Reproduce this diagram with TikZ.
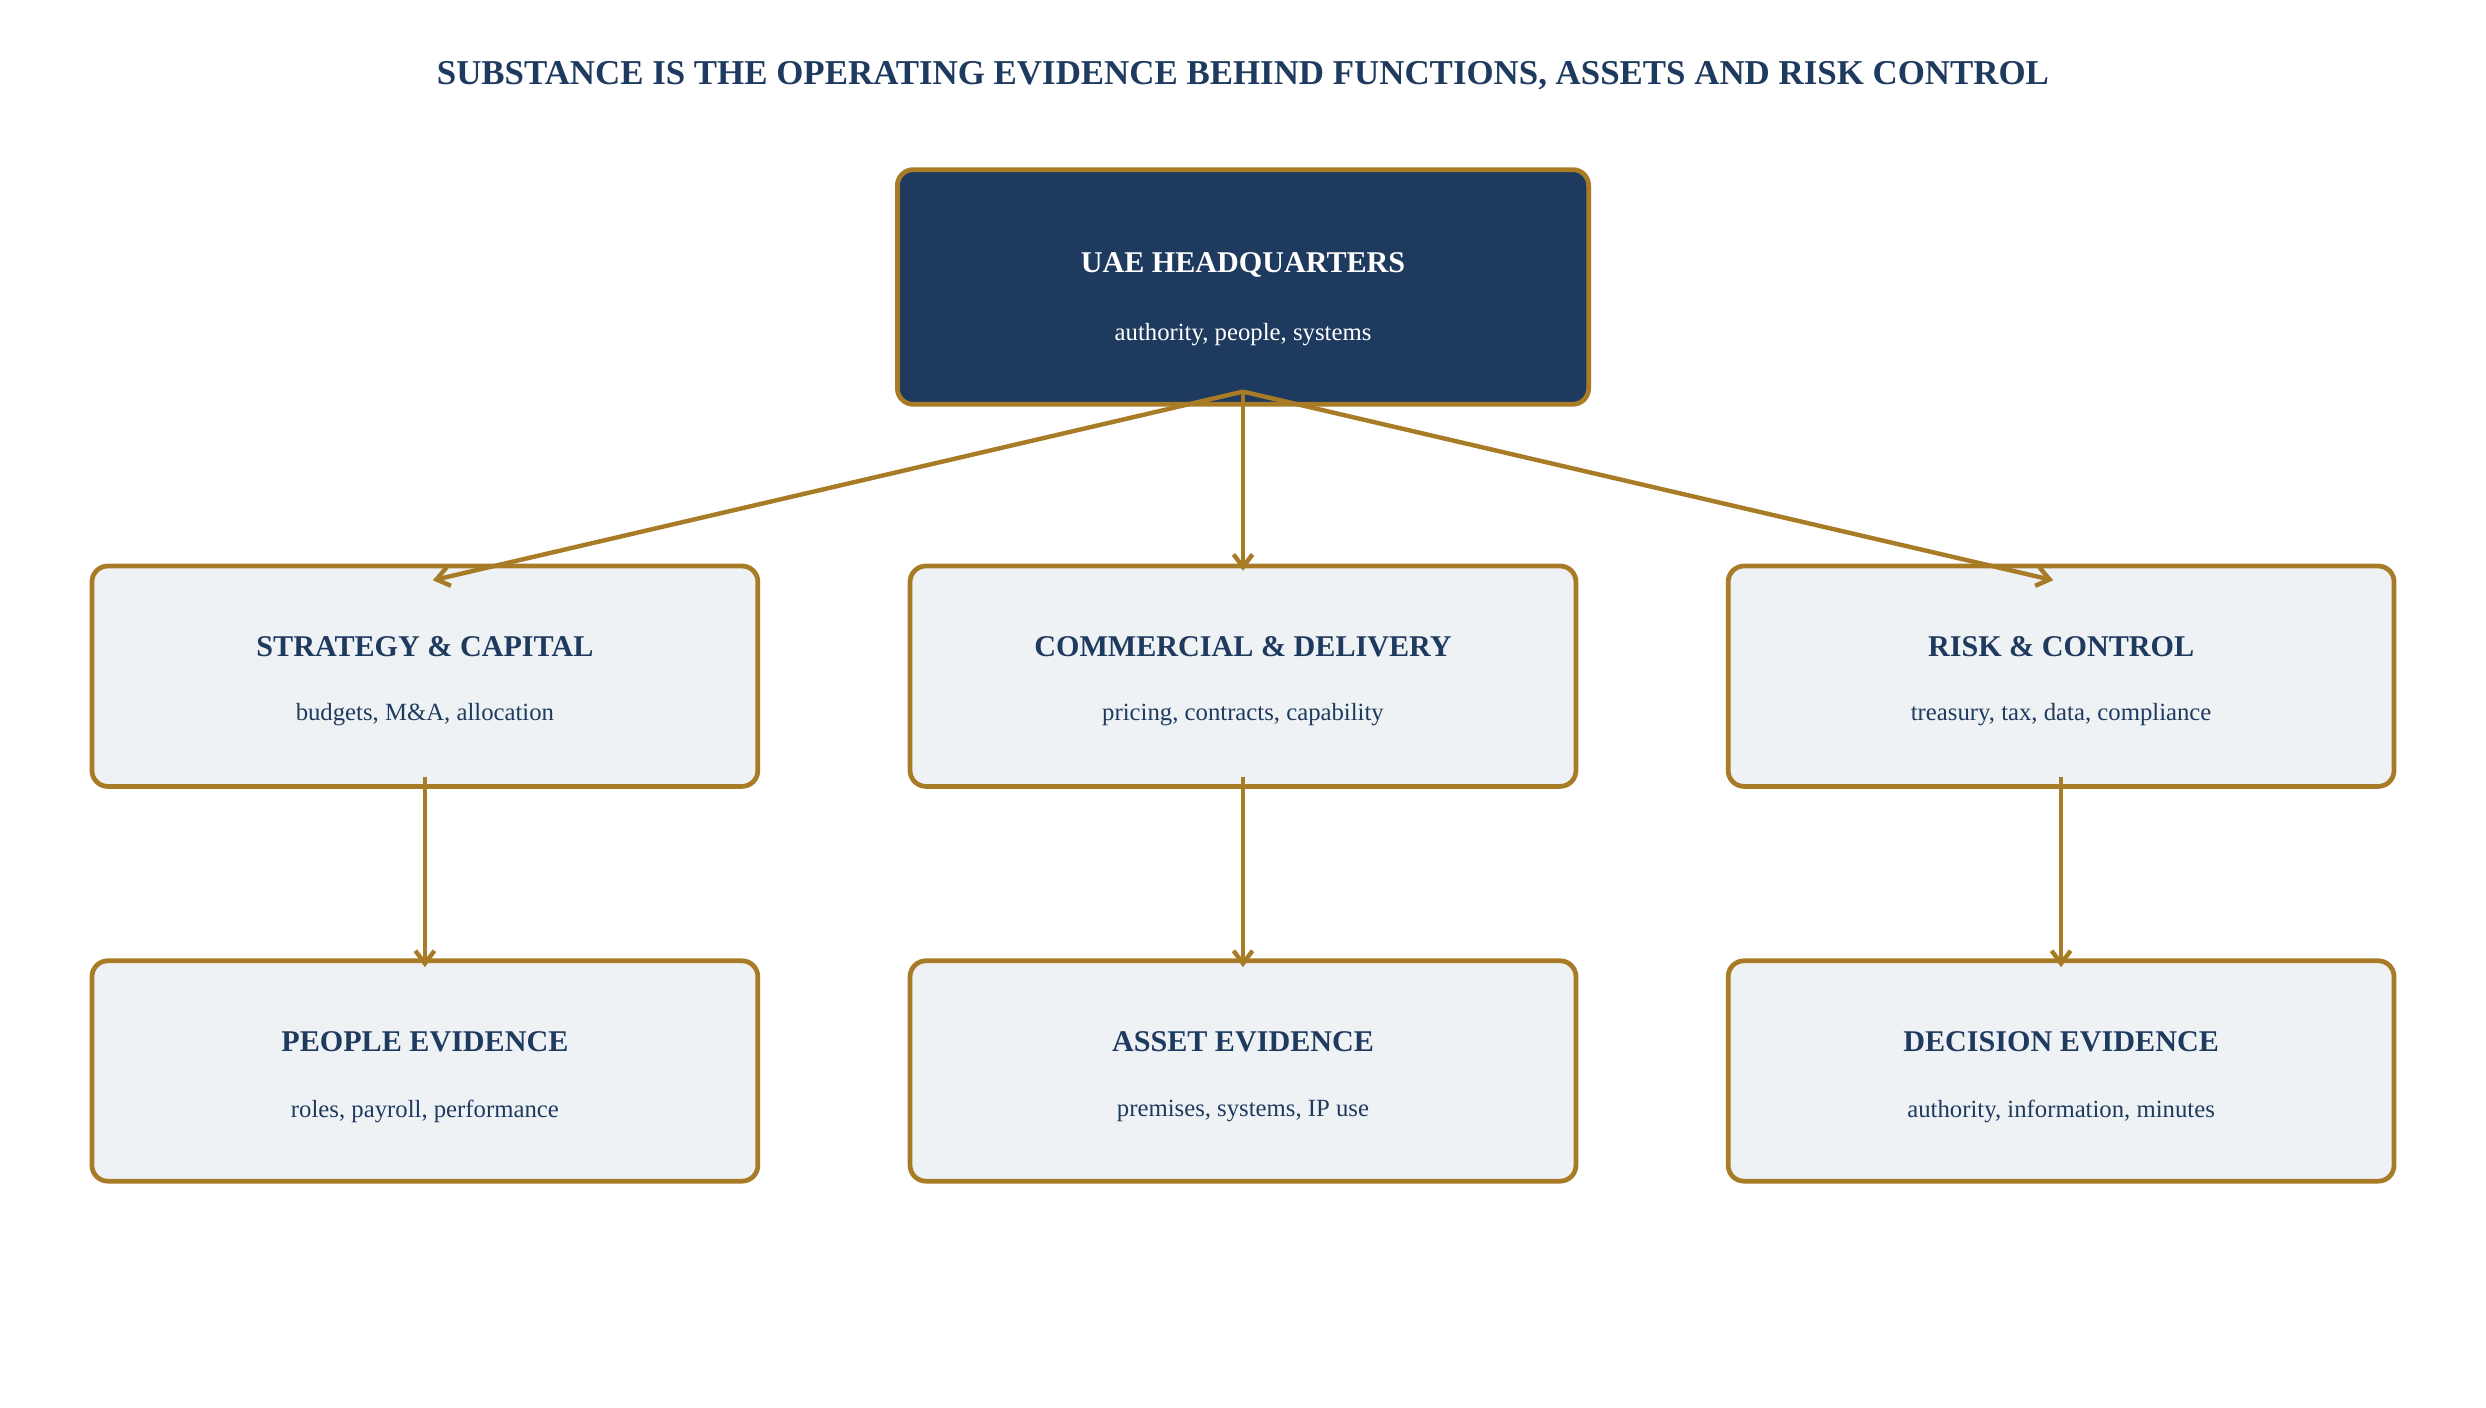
\documentclass[tikz,border=0pt]{standalone}
\usepackage{fontspec}
\setmainfont{Liberation Serif}
\usetikzlibrary{arrows.meta}
\definecolor{navy}{HTML}{1F3A5F}
\definecolor{gold}{HTML}{A87C27}
\definecolor{pale}{HTML}{EEF2F5}
\begin{document}
\begin{tikzpicture}[x=0.5pt,y=-0.5pt,
 box/.style={draw=gold,line width=1.5pt,rounded corners=5pt,fill=pale,minimum width=210pt,minimum height=69.5pt},
 hq/.style={box,fill=navy,minimum width=218pt,minimum height=74pt},
 ttl/.style={font=\bfseries\fontsize{9.5}{11}\selectfont,text=navy},
 sub/.style={font=\fontsize{7.8}{9}\selectfont,text=navy},
 arr/.style={draw=gold,line width=1.4pt,-{Straight Barb[length=4pt,width=6pt]}}]
\useasboundingbox (0,0) rectangle (1568,888);
\node[font=\bfseries\fontsize{11}{13}\selectfont,text=navy] (title) at (784,48) {SUBSTANCE IS THE OPERATING EVIDENCE BEHIND FUNCTIONS, ASSETS AND RISK CONTROL};
\node[hq] (hq) at (784,181) {};
\node[ttl,text=white] (hqt) at (784,167) {UAE HEADQUARTERS};
\node[sub,text=white] (hqs) at (784,211) {authority, people, systems};
\foreach \n/\x/\t/\s in {a/268/STRATEGY \& CAPITAL/{budgets, M\&A, allocation},b/784/COMMERCIAL \& DELIVERY/{pricing, contracts, capability},c/1300/RISK \& CONTROL/{treasury, tax, data, compliance}}{
 \node[box] (\n) at (\x,426.5) {};
 \node[ttl] (\n t) at (\x,408) {\t};
 \node[sub] (\n s) at (\x,451) {\s};
}
\foreach \n/\x/\t/\s in {d/268/PEOPLE EVIDENCE/{roles, payroll, performance},e/784/ASSET EVIDENCE/{premises, systems, IP use},f/1300/DECISION EVIDENCE/{authority, information, minutes}}{
 \node[box] (\n) at (\x,675.5) {};
 \node[ttl] (\n t) at (\x,657) {\t};
 \node[sub] (\n s) at (\x,701) {\s};
}
\coordinate (o) at (784,247);
\coordinate (ea) at (273,366);
\coordinate (eb) at (784,360);
\coordinate (ec) at (1295,366);
\draw[arr] (o) -- (ea);
\draw[arr] (o) -- (eb);
\draw[arr] (o) -- (ec);
\foreach \x/\p/\q in {268/a/d,784/b/e,1300/c/f}{
 \coordinate (\p1) at (\x,490); \coordinate (\q1) at (\x,610);
 \draw[arr] (\p1) -- (\q1);
}
\end{tikzpicture}
\end{document}
